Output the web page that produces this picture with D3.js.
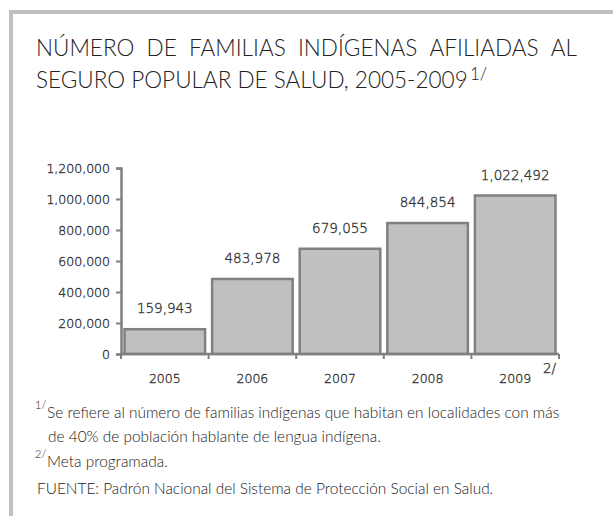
<!DOCTYPE html>
<html>
<head>
<meta charset="utf-8">
<script src="https://cdn.jsdelivr.net/npm/d3@7"></script>
<style>
  body { margin: 0; background: #fff; }
  svg { display: block; }
</style>
</head>
<body>
<div id="chart"></div>
<script>
// datos: familias indigenas afiliadas por año
var years = ["2005", "2006", "2007", "2008", "2009"];
var familias = [159943, 483978, 679055, 844854, 1022492];
var yTicks = [0, 200000, 400000, 600000, 800000, 1000000, 1200000];
var titleLine1 = ["NÚMERO", "DE", "FAMILIAS", "INDÍGENAS", "AFILIADAS", "AL"];
var titleLine2 = "SEGURO POPULAR DE SALUD, 2005-2009";
var notas = [
  {sup: "1/", text: "Se refiere al número de familias indígenas que habitan en localidades con más"},
  {sup: "", text: "de 40% de población hablante de lengua indígena."},
  {sup: "2/", text: "Meta programada."},
  {sup: "", text: "FUENTE: Padrón Nacional del Sistema de Protección Social en Salud."}
];

var W = 613, H = 516;
var textFont = "Lato, 'Open Sans', sans-serif";
var numFont = "'DejaVu Sans', Verdana, sans-serif";
var textColor = "#222";
var numColor = "#333";

var svg = d3.select("#chart").append("svg")
    .attr("width", W)
    .attr("height", H);

// ajusta el tamaño de letra para que el texto ocupe el ancho dado
function fitWidth(sel, target) {
  var base = 20;
  sel.style("font-size", base + "px");
  var w = sel.node().getComputedTextLength();
  var fs = base * target / w;
  sel.style("font-size", fs + "px");
  return fs;
}

// numeros finos pero legibles
function numStyle(sel, size) {
  sel.style("font-family", numFont)
     .style("font-weight", 200)
     .style("font-size", size + "px")
     .attr("fill", numColor)
     .attr("stroke", numColor)
     .attr("stroke-width", 0.35);
}

// marco gris
svg.append("rect").attr("x", 9).attr("y", 10).attr("width", W - 9).attr("height", 4).attr("fill", "#c0c0c0");
svg.append("rect").attr("x", 9).attr("y", 10).attr("width", 4).attr("height", H - 10).attr("fill", "#c0c0c0");

// titulo, segunda linea primero para fijar el tamaño
var t2 = svg.append("text")
    .attr("x", 36)
    .attr("y", 88)
    .style("font-family", textFont)
    .style("font-weight", 300)
    .attr("fill", textColor)
    .text(titleLine2);
var titleSize = fitWidth(t2, 432);
svg.append("text")
    .attr("x", 36 + 432 + 2)
    .attr("y", 80)
    .style("font-family", textFont)
    .style("font-weight", 300)
    .style("font-size", (titleSize * 0.75) + "px")
    .attr("fill", textColor)
    .text("1/");

// primera linea justificada
var words = svg.append("g").selectAll("text").data(titleLine1).enter().append("text")
    .attr("y", 56)
    .style("font-family", textFont)
    .style("font-weight", 300)
    .style("font-size", titleSize + "px")
    .attr("fill", textColor)
    .text(function(d){ return d; });
var lens = [];
words.each(function(){ lens.push(this.getComputedTextLength()); });
var left = 36, right = 577;
var gap = (right - left - d3.sum(lens)) / (lens.length - 1);
var xx = left;
words.attr("x", function(d, i){
  var v = xx; xx += lens[i] + gap; return v;
});

// grafica
var x = d3.scaleBand()
    .domain(years)
    .range([121, 559])
    .paddingInner(0.08)
    .paddingOuter(0.04);

var y = d3.scaleLinear()
    .domain([0, 1200000])
    .range([354, 168]);

var fmt = d3.format(",");

// eje y
var yAxis = svg.append("g")
    .attr("transform", "translate(121,0)")
    .call(d3.axisLeft(y).tickValues(yTicks).tickSize(5).tickPadding(6).tickFormat(fmt));
yAxis.select(".domain").attr("stroke", "#808080").attr("stroke-width", 2.5);
yAxis.selectAll(".tick line").attr("stroke", "#808080").attr("stroke-width", 2);
numStyle(yAxis.selectAll(".tick text"), 12.5);

// barras
svg.selectAll("rect.bar").data(familias).enter().append("rect")
    .attr("class", "bar")
    .attr("x", function(d, i){ return x(years[i]); })
    .attr("y", function(d){ return y(d); })
    .attr("width", x.bandwidth())
    .attr("height", function(d){ return y(0) - y(d); })
    .attr("fill", "#c0c0c0")
    .attr("stroke", "#808080")
    .attr("stroke-width", 2.5);

// etiquetas de valores
var vals = svg.selectAll("text.val").data(familias).enter().append("text")
    .attr("class", "val")
    .attr("x", function(d, i){ return x(years[i]) + x.bandwidth() / 2; })
    .attr("y", function(d){ return y(d) - 16; })
    .attr("text-anchor", "middle")
    .text(function(d){ return fmt(d); });
numStyle(vals, 13.5);

// eje x con marcas entre categorias
var bounds = d3.range(years.length + 1).map(function(i){ return 121 + i * (559 - 121) / years.length; });
svg.append("line")
    .attr("x1", 121).attr("x2", 559)
    .attr("y1", y(0)).attr("y2", y(0))
    .attr("stroke", "#808080").attr("stroke-width", 2.5);
svg.selectAll("line.xt").data(bounds).enter().append("line")
    .attr("class", "xt")
    .attr("x1", function(d){ return d; }).attr("x2", function(d){ return d; })
    .attr("y1", y(0)).attr("y2", y(0) + 5)
    .attr("stroke", "#808080").attr("stroke-width", 2);
var yrs = svg.selectAll("text.yr").data(years).enter().append("text")
    .attr("class", "yr")
    .attr("x", function(d){ return x(d) + x.bandwidth() / 2; })
    .attr("y", 383)
    .attr("text-anchor", "middle")
    .text(function(d){ return d; });
numStyle(yrs, 12.5);
numStyle(svg.append("text")
    .attr("x", 543)
    .attr("y", 373)
    .text("2/"), 13.5);

// notas al pie
var noteY = [418, 442, 467, 494];
var noteX = [47, 48, 47, 37];
var noteW = [513, 0, 0, 0];
var noteSize = 15;
notas.forEach(function(n, i){
  if (n.sup) {
    svg.append("text")
        .attr("x", 35)
        .attr("y", noteY[i] - 9)
        .style("font-family", textFont)
        .style("font-weight", 300)
        .style("font-size", "11px")
        .attr("fill", textColor)
        .text(n.sup);
  }
  var t = svg.append("text")
      .attr("x", noteX[i])
      .attr("y", noteY[i])
      .style("font-family", textFont)
      .style("font-weight", 300)
      .attr("fill", textColor)
      .text(n.text);
  if (noteW[i]) noteSize = fitWidth(t, noteW[i]);
  else t.style("font-size", noteSize + "px");
});
</script>
</body>
</html>
